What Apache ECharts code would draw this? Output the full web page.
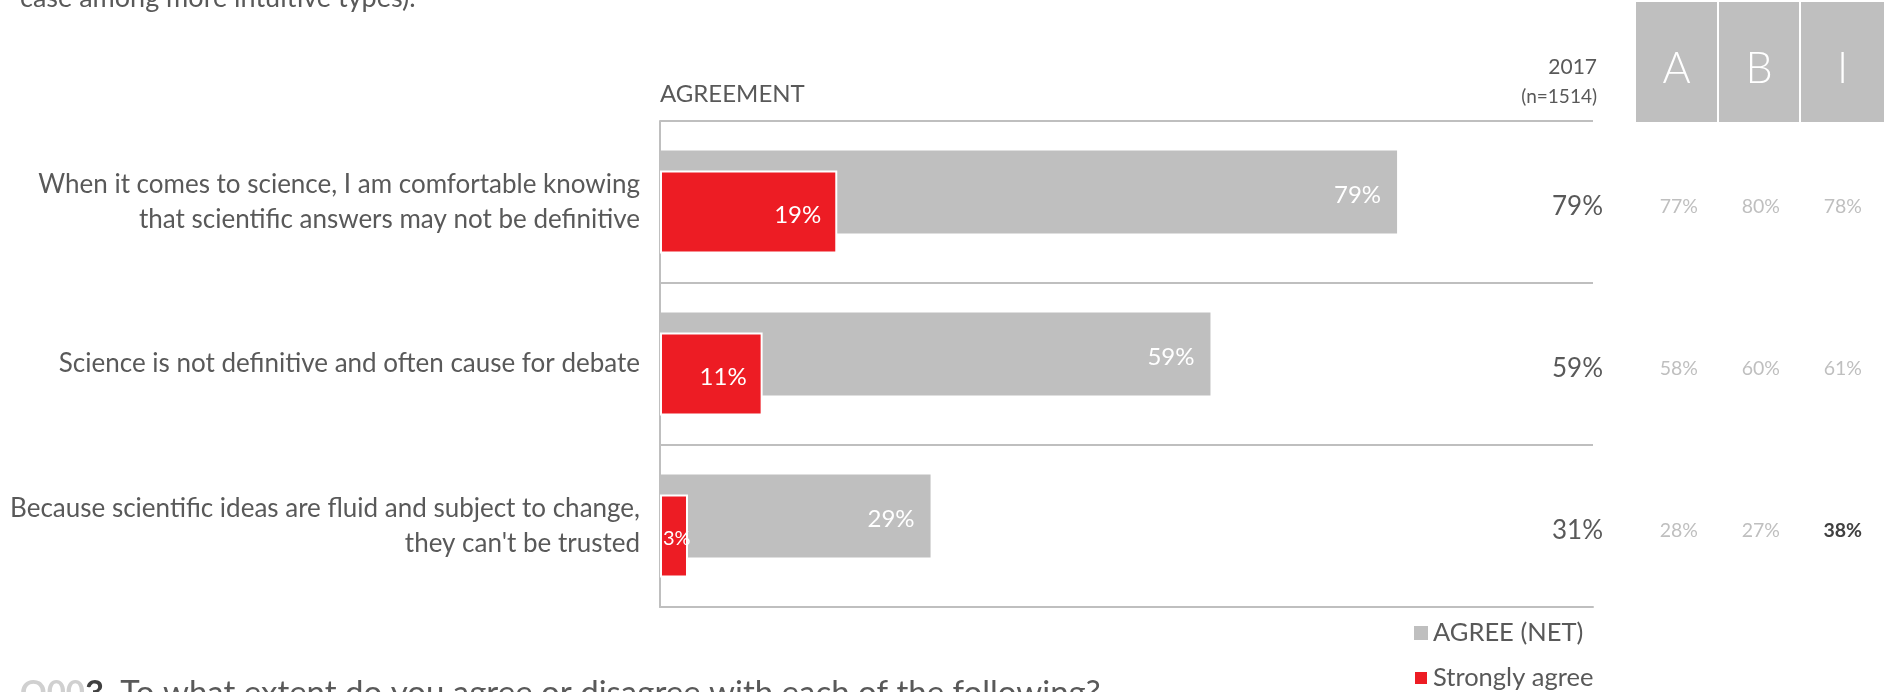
<!DOCTYPE html>
<html>
<head>
<meta charset="utf-8">
<script src="https://cdn.jsdelivr.net/npm/echarts@6/dist/echarts.min.js"></script>
<style>
  html, body { margin: 0; padding: 0; background: #fff; }
  #chart { width: 1884px; height: 692px; }
</style>
</head>
<body>
<div id="chart"></div>
<script>
// Survey statements (one row each)
const statements = [
  'When it comes to science, I am comfortable knowing\nthat scientific answers may not be definitive',
  'Science is not definitive and often cause for debate',
  "Because scientific ideas are fluid and subject to change,\nthey can't be trusted"
];
// Bar values (%)
const agreeNet = [79, 59, 29];
const stronglyAgree = [19, 11, 3];
// Side table (%)
const total2017 = [79, 59, 31];
const groupA = [77, 58, 28];
const groupB = [80, 60, 27];
const groupI = [78, 61, 38];
const groupIHighlight = [false, false, true];
const groupHeaders = ['A', 'B', 'I'];
const seriesNames = ['AGREE (NET)', 'Strongly agree'];

const FONT = 'Lato, "Open Sans", sans-serif';
const GREY = '#bfbfbf';
const RED = '#ed1c24';
const TEXT = '#595959';

const chart = echarts.init(document.getElementById('chart'));

const headerBoxes = [
  { x: 1636, w: 81 },
  { x: 1719, w: 80 },
  { x: 1801, w: 83 }
];

const graphic = [
  {
    type: 'text', left: 20, top: -15,
    style: { text: 'case among more intuitive types).', font: '27px ' + FONT, fill: TEXT }
  },
  {
    type: 'text', left: 660, top: 82,
    style: { text: 'AGREEMENT', font: '24px ' + FONT, fill: TEXT }
  },
  {
    type: 'text', right: 287, top: 57,
    style: { text: '2017', font: '21px ' + FONT, fill: TEXT, align: 'right' }
  },
  {
    type: 'text', right: 287, top: 87,
    style: { text: '(n=1514)', font: '19px ' + FONT, fill: TEXT, align: 'right' }
  },
  {
    type: 'text', left: 20, top: 677,
    style: {
      text: '{q|Q00}{b|3.} To what extent do you agree or disagree with each of the following?',
      font: '33px ' + FONT, fill: TEXT,
      rich: {
        q: { font: 'bold 33px ' + FONT, fill: '#d0d0d0' },
        b: { font: 'bold 33px ' + FONT, fill: '#404040' }
      }
    }
  }
];
headerBoxes.forEach((b, i) => {
  graphic.push({
    type: 'rect',
    shape: { x: b.x, y: 2, width: b.w, height: 120 },
    style: { fill: GREY }
  });
  graphic.push({
    type: 'text',
    style: {
      x: b.x + b.w / 2, y: 69, text: groupHeaders[i],
      font: '300 43px ' + FONT, fill: '#fff', align: 'center', verticalAlign: 'middle'
    }
  });
});

const barLabel = {
  show: true,
  position: 'insideRight',
  distance: 16,
  offset: [0, 3],
  formatter: '{c}%',
  color: '#fff',
  fontSize: 24,
  fontFamily: FONT
};

const option = {
  animation: false,
  textStyle: { fontFamily: FONT },
  graphic: graphic,
  grid: { left: 660, right: 291, top: 121, bottom: 85, containLabel: false },
  legend: {
    data: seriesNames,
    orient: 'vertical',
    left: 1413,
    top: 620,
    padding: 0,
    icon: 'rect',
    itemWidth: 14,
    itemHeight: 14,
    itemGap: 19,
    textStyle: { fontSize: 25.5, lineHeight: 26, color: TEXT, fontFamily: FONT },
    selectedMode: false
  },
  xAxis: {
    type: 'value',
    min: 0,
    max: 100,
    axisLine: { show: true, lineStyle: { color: GREY, width: 2 } },
    axisTick: { show: false },
    axisLabel: { show: false },
    splitLine: { show: false }
  },
  yAxis: [
    {
      type: 'category',
      data: statements,
      inverse: true,
      axisLine: { show: true, lineStyle: { color: GREY, width: 2 } },
      axisTick: { show: false },
      splitLine: { show: true, interval: 0, lineStyle: { color: GREY, width: 2 } },
      axisLabel: {
        margin: 20,
        fontSize: 26,
        lineHeight: 35,
        padding: [5, 0, 0, 0],
        color: TEXT,
        align: 'right',
        fontFamily: FONT
      }
    },
    {
      type: 'category',
      data: statements,
      inverse: true,
      position: 'right',
      axisLine: { show: false },
      axisTick: { show: false },
      splitLine: { show: false },
      axisLabel: {
        margin: 269,
        align: 'right',
        padding: [9, 0, 0, 0],
        formatter: (v, i) => {
          const tag = groupIHighlight[i] ? 'h' : 'g';
          return '{t|' + total2017[i] + '%}{a|' + groupA[i] + '%}{g|' + groupB[i] + '%}{' + tag + '|' + groupI[i] + '%}';
        },
        rich: {
          t: { width: 70, align: 'right', fontSize: 26, color: TEXT, fontFamily: FONT },
          a: { width: 95, align: 'right', fontSize: 19.5, color: GREY, fontFamily: FONT },
          g: { width: 82, align: 'right', fontSize: 19.5, color: GREY, fontFamily: FONT },
          h: { width: 82, align: 'right', fontSize: 19.5, fontWeight: 'bold', color: '#404040', fontFamily: FONT }
        }
      }
    }
  ],
  series: [
    {
      name: seriesNames[0],
      type: 'bar',
      data: agreeNet,
      barWidth: 83,
      barGap: '-76%',
      itemStyle: { color: GREY },
      label: barLabel
    },
    {
      name: seriesNames[1],
      type: 'bar',
      data: stronglyAgree.map(v => v < 5
        ? { value: v, label: { position: 'insideLeft', distance: 3, fontSize: 20 } }
        : v),
      barWidth: 83,
      itemStyle: { color: RED, borderColor: '#fff', borderWidth: 2 },
      label: barLabel
    }
  ]
};

chart.setOption(option);
</script>
</body>
</html>
